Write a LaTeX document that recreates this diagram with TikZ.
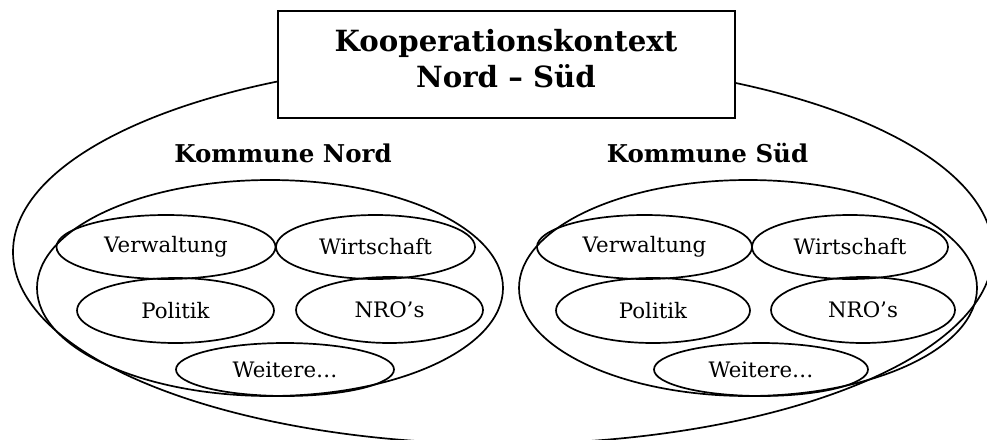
\documentclass[tikz,border=0pt]{standalone}
\usepackage{fontspec}
\setmainfont{DejaVu Serif}
\usetikzlibrary{shapes.geometric}
\begin{document}
\begin{tikzpicture}[x=1pt,y=-1pt,
  every node/.style={inner sep=0pt, outer sep=0pt},
  oval/.style={draw, ellipse, line width=1.7pt},
  item/.style={oval, font=\fontsize{21.3}{25}\selectfont},
  kommune/.style={font=\bfseries\fontsize{24.5}{28}\selectfont, anchor=base},
  titlebox/.style={draw, fill=white, line width=1.8pt, rectangle},
  titletext/.style={font=\bfseries\fontsize{29.2}{36}\selectfont, align=center}
]
\useasboundingbox (0,0) rectangle (987,439);
\begin{scope}
  \clip (0,0) rectangle (987,439);
  \node[oval, minimum width=980pt, minimum height=384pt] (ctx) at (503,252) {};
\end{scope}
\node[titlebox, minimum width=457pt, minimum height=107pt] (box) at (506.5,64.5) {};
\node[titletext] (title) at (506,59) {Kooperationskontext\\Nord – Süd};

% Kommune Nord
\node[kommune] (knlabel) at (283,162) {Kommune Nord};
\node[oval, minimum width=466pt, minimum height=216pt] (kn) at (270,288) {};
\node[item, minimum width=219pt, minimum height=64pt] (nv) at (166,247) {Verwaltung};
\node[item, minimum width=199pt, minimum height=64pt] (nw) at (375.5,247) {Wirtschaft};
\node[item, minimum width=197pt, minimum height=65pt] (np) at (175.5,310.5) {Politik};
\node[item, minimum width=187pt, minimum height=66pt] (nn) at (389.5,310) {NRO’s};
\node[item, minimum width=218pt, minimum height=53pt] (nx) at (285,369.5) {Weitere…};

% Kommune Sued
\node[kommune] (kslabel) at (707.5,162) {Kommune Süd};
\node[oval, minimum width=458pt, minimum height=216pt] (ks) at (748,288) {};
\node[item, minimum width=215pt, minimum height=64pt] (sv) at (644.5,247) {Verwaltung};
\node[item, minimum width=196pt, minimum height=64pt] (sw) at (850,247) {Wirtschaft};
\node[item, minimum width=194pt, minimum height=65pt] (sp) at (653,310.5) {Politik};
\node[item, minimum width=184pt, minimum height=66pt] (sn) at (863,310) {NRO’s};
\node[item, minimum width=214pt, minimum height=53pt] (sx) at (761,369.5) {Weitere…};
\end{tikzpicture}
\end{document}
